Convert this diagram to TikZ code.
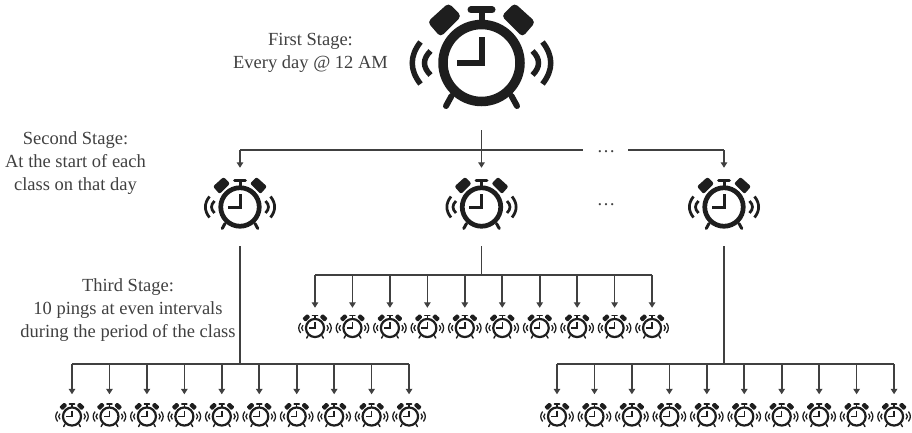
\documentclass[tikz,border=0pt]{standalone}
\usepackage{fontspec}
\setmainfont{Liberation Serif}
\usetikzlibrary{arrows.meta}
\definecolor{ink}{HTML}{1E1E1E}
\tikzset{
  x=1pt,y=-1pt,
  conn/.style={draw=ink!85!white,line width=1.6pt},
  arr/.style={conn,-{Triangle[length=5.5pt,width=6.5pt]}},
  lab/.style={font=\fontsize{18.5}{23}\selectfont,text=ink!85!white,inner sep=0pt,align=center},
}
% \alarm{name}{x}{y}{scale}{half-height of the node}
\newcommand{\alarm}[5]{%
  \begin{scope}[shift={(#2,#3)},scale=#4,ink,line cap=butt]
    \pgfmathsetmacro{\sc}{#4}
    \draw[line width=\sc*9.5pt] (0,0) circle (38.5);
    \draw[line width=\sc*6pt,line join=miter] (0,-25.5) -- (0,0) -- (-25,0);
    \draw[line width=\sc*6pt] (0,-40) -- (0,-52);
    \draw[line width=\sc*7pt,line cap=round] (-10.5,-53) -- (10.5,-53);
    \fill[rounded corners=\sc*4pt] (-54,-41) -- (-33,-60) -- (-20,-47) -- (-41,-26) -- cycle;
    \fill[rounded corners=\sc*4pt] (54,-41) -- (33,-60) -- (20,-47) -- (41,-26) -- cycle;
    \draw[line width=\sc*6pt,line cap=round] (-30,33) -- (-35.5,43);
    \draw[line width=\sc*6pt,line cap=round] (30,33) -- (35.5,43);
    \draw[line width=\sc*5.5pt] (-51,-12) .. controls (-59,-4) and (-59,4) .. (-51,12);
    \draw[line width=\sc*5.5pt] (51,-12) .. controls (59,-4) and (59,4) .. (51,12);
    \draw[line width=\sc*5.5pt] (-61,-21) .. controls (-72,-7) and (-72,7) .. (-61,21);
    \draw[line width=\sc*5.5pt] (61,-21) .. controls (72,-7) and (72,7) .. (61,21);
  \end{scope}
  \node[minimum width=2*#4*72pt,minimum height=2*#5 pt,inner sep=0pt] (#1) at (#2,#3) {};
}
\begin{document}
\begin{tikzpicture}
\useasboundingbox (0,0) rectangle (912,433);
\alarm{top}{481.5}{63}{1}{67}
\alarm{ca}{240}{207}{0.5}{39}
\alarm{cb}{481.5}{207}{0.5}{39}
\alarm{cc}{724}{207}{0.5}{39}

\foreach \i in {0,...,9}{
  \pgfmathsetmacro{\xa}{72+37.45*\i}
  \pgfmathsetmacro{\xb}{315+37.45*\i}
  \pgfmathsetmacro{\xc}{557+37.45*\i}
  \alarm{a\i}{\xa}{416.5}{0.235}{22}
  \alarm{b\i}{\xb}{328}{0.235}{20}
  \alarm{c\i}{\xc}{416.5}{0.235}{22}
}
\coordinate (ja) at (ca.north |- 0,150);
\coordinate (jb) at (cb.north |- 0,150);
\coordinate (jl) at (583,150);
\coordinate (jr) at (628,150);
\draw[conn] (jb) -- (ja);
\draw[arr] (ja) -- (ca.north);
\draw[arr] (top.south) -- (cb.north);
\draw[conn] (jb) -- (jl);
\draw[conn] (jr) -- (cc.north |- jr);
\draw[arr] (cc.north |- jr) -- (cc.north);
\foreach \p/\yy/\src in {a/364/ca,b/275/cb,c/364/cc}{
  \draw[conn] (\p0.north |- 0,\yy) -- (\p9.north |- 0,\yy);
  \draw[conn] (\src.south) -- (\src.south |- 0,\yy);
  \foreach \i in {0,...,9}{
    \draw[arr] (\p\i.north |- 0,\yy) -- (\p\i.north);
  }
}
\node[lab] (t1) at (310.5,52.5) {First Stage:\\Every day @ 12 AM};
\node[lab] (s1) at (75.5,163.5) {Second Stage:\\At the start of each\\class on that day};
\node[lab] (d1) at (606,152) {\dots};
\node[lab] (d2) at (606,205) {\dots};
\node[lab] (h1) at (128,310) {Third Stage:\\10 pings at even intervals\\during the period of the class};
\end{tikzpicture}
\end{document}
